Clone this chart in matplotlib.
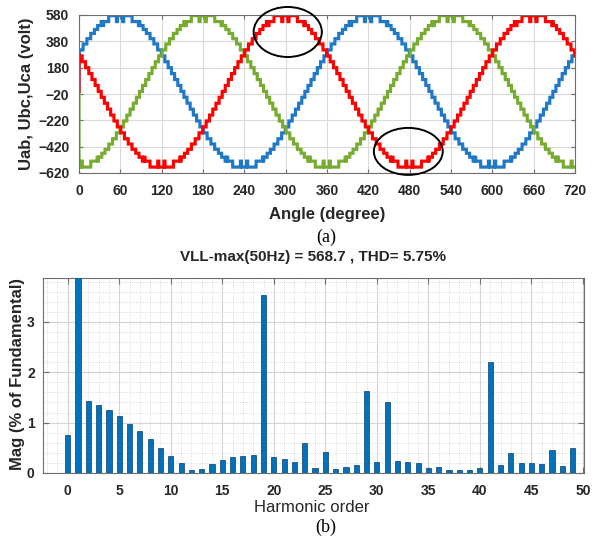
import numpy as np
import matplotlib
matplotlib.use("Agg")
import matplotlib.pyplot as plt
from matplotlib.patches import Ellipse

plt.rcParams['font.family'] = ['Liberation Sans', 'DejaVu Sans']

# ---------------- data (a): staircase line voltage ----------------
# quarter-wave of Uab, measured from its rising zero crossing (deg) -> level (V)
step_angles = [0, 2.2, 6.7, 11.3, 15.9, 20.6, 25.5, 30.6, 35.9, 41.4, 46.9, 52.3, 57.0, 62.0, 73.0]
step_levels = [0, 45, 90, 135, 180, 225, 270, 315, 360, 400, 440, 470, 500, 530, 575]
# small notches near the crest (offset from crest in deg, level during notch)
notch_offsets = [-5.0, 4.0, -25.0, 27.0]
notch_levels = [530, 530, 500, 500]
notch_width = 1.6
uab_zero_cross = -30.0          # rising zero crossing of Uab (deg)
phase_shift = [0, 120, 240]     # Uab, Ubc, Uca
series_names = ["Uab", "Ubc", "Uca"]
series_colors = ["#1f78c8", "#77ac30", "#ff0000"]

x_ticks_a = [0, 60, 120, 180, 240, 300, 360, 420, 480, 540, 600, 660, 720]
y_ticks_a = [580, 380, 180, -20, -220, -420, -620]

# ---------------- data (b): harmonic spectrum ----------------
harm_order = list(range(0, 50))
harm_mag = [0.75, 100.0, 1.42, 1.34, 1.245, 1.13, 0.98, 0.83, 0.675, 0.50,
            0.345, 0.20, 0.066, 0.073, 0.17, 0.25, 0.31, 0.33, 0.36, 3.54,
            0.31, 0.285, 0.225, 0.60, 0.093, 0.42, 0.073, 0.12, 0.165, 1.62,
            0.225, 1.40, 0.24, 0.225, 0.20, 0.093, 0.12, 0.053, 0.06, 0.066,
            0.106, 2.205, 0.165, 0.40, 0.20, 0.20, 0.185, 0.45, 0.14, 0.50]
x_ticks_b = [0, 5, 10, 15, 20, 25, 30, 35, 40, 45, 50]
y_ticks_b = [0, 1, 2, 3]
title_b = "VLL-max(50Hz) = 568.7 , THD= 5.75%"


def staircase(theta):
    r = np.mod(theta - uab_zero_cross, 360.0)
    neg = r >= 180.0
    s = np.mod(r, 180.0)
    q = np.minimum(s, 180.0 - s)
    idx = np.searchsorted(step_angles, q, side='right') - 1
    lev = np.asarray(step_levels, float)[idx]
    d = s - 90.0
    for off, nl in zip(notch_offsets, notch_levels):
        lev = np.where(np.abs(d - off) < notch_width / 2, nl, lev)
    return np.where(neg, -lev, lev)


fig = plt.figure(figsize=(5.94, 5.44), dpi=100)
W, H = 594, 544


def axrect(l, r, t, b):
    return [l / W, 1 - b / H, (r - l) / W, (b - t) / H]


tick_col = '#262626'
spine_col = '#6e6e6e'

# ---------------- top plot ----------------
ax1 = fig.add_axes(axrect(79, 575, 15, 173))
theta = np.arange(0, 720.0001, 0.02)
for sh, name, col in zip(phase_shift, series_names, series_colors):
    v = staircase(theta - sh)
    xs = np.concatenate([[0.0], theta])
    ys = np.concatenate([[0.0], v])
    ax1.plot(xs, ys, color=col, lw=2.3, label=name, solid_joinstyle='miter')

ax1.set_xlim(0, 720)
ax1.set_ylim(-620, 580)
ax1.set_xticks(x_ticks_a)
ax1.set_yticks(y_ticks_a)
ax1.grid(True, color='#dadada', lw=0.8)
ax1.set_axisbelow(True)
ax1.tick_params(direction='in', length=3, top=True, right=True, color=spine_col,
                labelsize=10, labelcolor=tick_col)
ax1.tick_params(axis='x', pad=8)
ax1.tick_params(axis='y', pad=7)
for lab in ax1.get_xticklabels() + ax1.get_yticklabels():
    lab.set_fontweight('bold')
for sp in ax1.spines.values():
    sp.set_color(spine_col)
    sp.set_linewidth(0.8)
ax1.set_xlabel("Angle (degree)", fontsize=12, fontweight='bold', color=tick_col, va='center')
ax1.xaxis.set_label_coords(0.5, -(215 - 173) / 158)
ax1.set_ylabel("Uab, Ubc,Uca (volt)", fontsize=12, fontweight='bold', color=tick_col, va='center')
ax1.yaxis.set_label_coords((27 - 79) / 496, 0.5)

ax1.add_patch(Ellipse((303, 451), 99, 380, fill=False, ec='black', lw=1.4, clip_on=False, zorder=5))
ax1.add_patch(Ellipse((478, -456), 100, 357, fill=False, ec='black', lw=1.4, clip_on=False, zorder=5))

fig.text(326 / W, 1 - 237 / H, "(a)", fontsize=13, family=['Liberation Serif', 'DejaVu Serif'],
         ha='center', va='center')

# ---------------- bottom plot ----------------
ax2 = fig.add_axes(axrect(43, 584, 278, 473))
ax2.bar(harm_order, harm_mag, width=0.5, color='#0072BD', edgecolor='#0b3d66', lw=0.5, zorder=3)
ax2.set_xlim(-2.4, 50.1)
ax2.set_ylim(0, 3.87)
ax2.set_xticks(x_ticks_b)
ax2.set_yticks(y_ticks_b)
ax2.set_xticks(np.arange(-2, 51, 1), minor=True)
ax2.set_yticks(np.arange(0, 3.87, 0.2), minor=True)
ax2.grid(True, which='major', color='#d4d4d4', lw=0.8)
ax2.grid(True, which='minor', color='#cfcfcf', lw=0.6, ls=':')
ax2.set_axisbelow(True)
ax2.tick_params(which='both', direction='in', top=True, right=True, color=spine_col,
                labelsize=10, labelcolor=tick_col)
ax2.tick_params(which='major', length=4)
ax2.tick_params(which='minor', length=0)
ax2.tick_params(axis='x', pad=8)
ax2.tick_params(axis='y', pad=6)
for lab in ax2.get_xticklabels() + ax2.get_yticklabels():
    lab.set_fontweight('bold')
for sp in ax2.spines.values():
    sp.set_color(spine_col)
    sp.set_linewidth(0.8)
ax2.set_title(title_b, fontsize=11, fontweight='bold', color=tick_col, va='center',
              y=1 + (278 - 265) / 195)
ax2.set_xlabel("Harmonic order", fontsize=12, color=tick_col, va='center')
ax2.xaxis.set_label_coords((312 - 43) / 541, -(507 - 473) / 195)
ax2.set_ylabel("Mag (% of Fundamental)", fontsize=12, fontweight='bold', color=tick_col, va='center')
ax2.yaxis.set_label_coords((18 - 43) / 541, 0.508)

fig.text(326 / W, 1 - 527 / H, "(b)", fontsize=13, family=['Liberation Serif', 'DejaVu Serif'],
         ha='center', va='center')

fig.savefig("out.png", dpi=100)
